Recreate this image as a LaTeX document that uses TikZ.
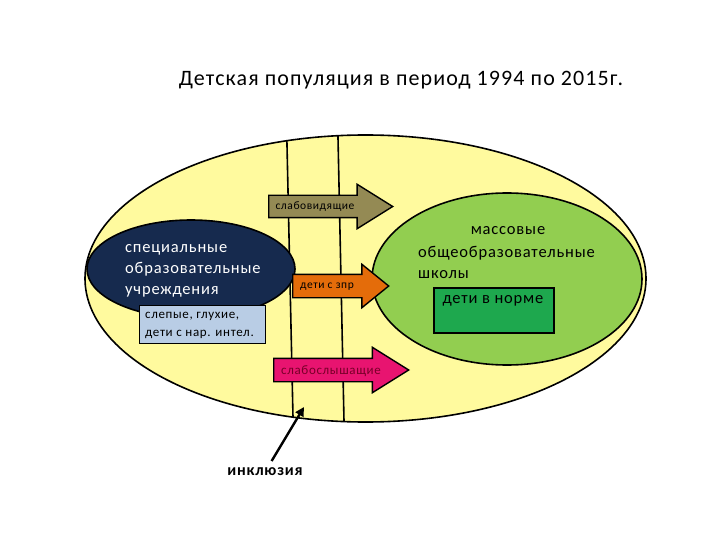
\documentclass[tikz,border=0pt]{standalone}
\usepackage{fontspec}
\setmainfont{Carlito}[LetterSpace=5]
\usetikzlibrary{shapes.geometric, shapes.arrows, arrows.meta}

\definecolor{popyellow}{RGB}{255,250,158}
\definecolor{specnavy}{RGB}{22,42,78}
\definecolor{boxblue}{RGB}{185,205,229}
\definecolor{massgreen}{RGB}{146,206,80}
\definecolor{normgreen}{RGB}{30,168,78}
\definecolor{visolive}{RGB}{148,138,84}
\definecolor{zprorange}{RGB}{228,108,10}
\definecolor{hearpink}{RGB}{232,20,112}
\definecolor{heartext}{RGB}{120,0,40}

\tikzset{
  region/.style={ellipse, draw=black, line width=1.6pt, inner sep=0pt},
  border/.style={draw=black, line width=1.6pt},
  flowarrow/.style={single arrow, draw=black, line width=1.4pt, inner xsep=0pt,
    single arrow head indent=0pt, anchor=tail},
  arrowtext/.style={font=\fontsize{11.5}{13}\selectfont, inner sep=0pt},
  bigtext/.style={font=\fontsize{16.5}{21}\selectfont, inner sep=0pt, align=left},
  infobox/.style={draw=black, line width=1.4pt, inner sep=0pt, anchor=north west},
  smalltext/.style={font=\fontsize{13}{18}\selectfont, inner sep=0pt, align=left},
}

\begin{document}
\begin{tikzpicture}[x=1pt,y=-1pt]
  \useasboundingbox (0,0) rectangle (720,540);

  \node[font=\fontsize{22}{25}\selectfont] (title) at (401,80) {Детская популяция в период 1994 по 2015г.};

  % whole population
  \node[region, fill=popyellow, minimum width=561pt, minimum height=287pt] (pop) at (365.5,278.5) {};

  % boundaries of the inclusion zone
  \begin{scope}
    \clip (365.5,278.5) ellipse (280.5pt and 143.5pt);
    \draw[border] (286,100) -- (293.5,440);
    \draw[border] (337.2,100) -- (344.4,440);
  \end{scope}

  % special schools
  \node[region, fill=specnavy, minimum width=208pt, minimum height=98pt] (spec) at (191,269) {};
  \node[bigtext, text=white, anchor=west] (spectext) at (125,271) {специальные\\образовательные\\учреждения};
  \node[infobox, fill=boxblue, minimum width=126pt, minimum height=38pt] (blind) at (139,305) {};
  \node[smalltext, anchor=west] (blindtext) at (145,325) {слепые, глухие,\\дети с нар. интел.};

  % mass schools
  \node[region, fill=massgreen, minimum width=270pt, minimum height=172pt] (mass) at (507,279) {};
  \node[bigtext] (masstitle) at (508,231) {массовые};
  \node[bigtext, anchor=west] (masstext) at (418,262.5) {общеобразовательные\\школы};
  \node[infobox, line width=1.6pt, fill=normgreen, minimum width=120pt, minimum height=45pt] (norm) at (433,287) {};
  \node[bigtext] (normtext) at (493,301) {дети в норме};

  % flows
  \node[flowarrow, fill=visolive, inner ysep=10.5pt, minimum height=124pt,
    single arrow head extend=11pt, single arrow tip angle=64] (vis) at (268,206.5) {};
  \node[arrowtext] (vistext) at (315,207) {слабовидящие};

  \node[flowarrow, fill=zprorange, inner ysep=11pt, minimum height=96pt,
    single arrow head extend=10pt, single arrow tip angle=78] (zpr) at (292,286) {};
  \node[arrowtext] (zprtext) at (327,287) {дети с зпр};

  \node[flowarrow, fill=hearpink, inner ysep=11pt, minimum height=135pt,
    single arrow head extend=11pt, single arrow tip angle=64] (hear) at (273,370) {};
  \node[arrowtext, text=heartext, font=\fontsize{13}{14}\selectfont] (heartxt) at (331,371) {слабослышащие};

  % inclusion
  \node[font=\bfseries\fontsize{16}{18}\selectfont] (incl) at (265,472) {инклюзия};
  \coordinate (inclTip) at (304,407);
  \draw[line width=2.4pt, -{Triangle[length=9pt,width=9pt]}, shorten <=4pt] (incl) -- (inclTip);
\end{tikzpicture}
\end{document}
